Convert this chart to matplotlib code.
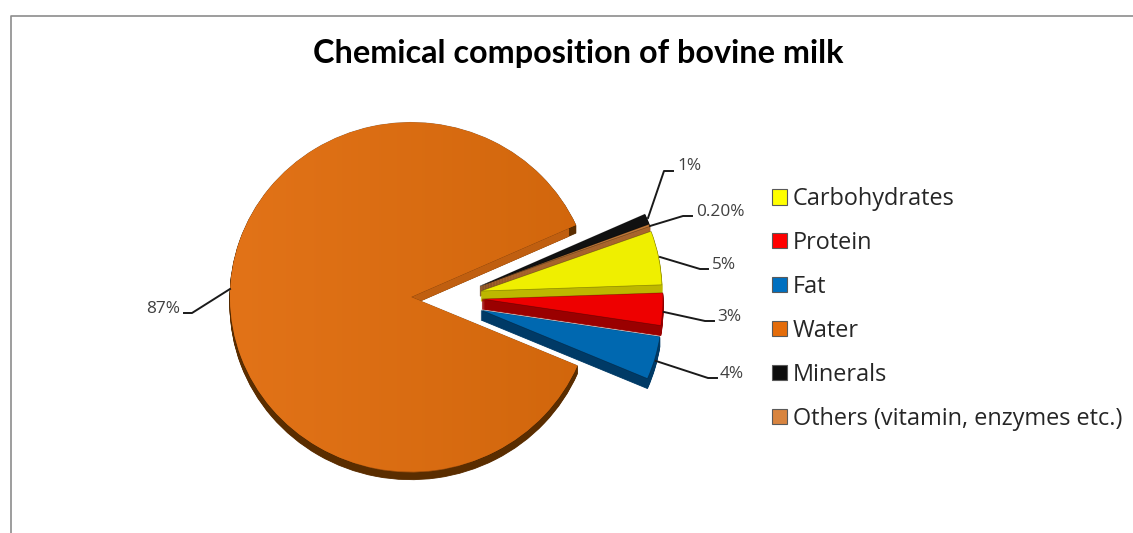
# -*- coding: utf-8 -*-

import numpy as np
import matplotlib
matplotlib.use("Agg")
import matplotlib.pyplot as plt
from matplotlib.patches import Patch
from matplotlib.transforms import Affine2D

categories = ["Carbohydrates", "Protein", "Fat", "Water", "Minerals",
              "Others (vitamin, enzymes etc.)"]
values = [5, 3, 4, 87, 1, 0.2]
value_labels = ["5%", "3%", "4%", "87%", "1%", "0.20%"]

top_colors = ["#EFEF00", "#EE0000", "#0068B0", "#DB6C12", "#111111", "#C07838"]
wall_colors = ["#BDB700", "#9A0000", "#003A66", "#5A2D00", "#111111", "#A8652C"]
legend_colors = ["#FFFF00", "#FF0000", "#0070C0", "#E46C0A", "#0D0D0D", "#D8843F"]

# px offset of every slice from the pie centre (pulled out slices)
slice_shift = [(70, 6), (71, -2), (70, -13), (0, 0), (69, 11), (69, 11)]
draw_rank = [3, 4, 5, 0, 1, 2]

# (elbow x, elbow y, end x, end y, text x, text y, start x, start y)
leaders = [
    (700, 269, 708, 269, 712, 265, 660, 257),
    (705, 321, 714, 321, 717, 317, 664, 312),
    (708, 378, 717, 378, 720, 374, 656, 361),
    (192, 313, 184, 313, 180, 309, 230, 289),
    (664, 171, 673, 171, 677, 166, 648, 218),
    (683, 216, 692, 216, 696, 212, 650, 226),
]

WIDTH, HEIGHT = 1133, 533
CX, CY = 411, 297
RADIUS = 181
SQUASH = 0.965
DEPTH = 10
WATER_DEPTH = 8
START = 20

fig = plt.figure(figsize=(WIDTH / 100, HEIGHT / 100), dpi=100)
ax = fig.add_axes([0, 0, 1, 1])
px = Affine2D().scale(1, -1).translate(0, HEIGHT)


def draw_layer(depth, colors, radius, only=None):
    wedges, _ = ax.pie(values, colors=colors, radius=radius, startangle=START,
                       counterclock=False, normalize=True)
    for i, w in enumerate(wedges):
        if only is not None and i != only:
            w.set_visible(False)
        dx, dy = slice_shift[i]
        # the big slice sits on a thinner rim
        drop = depth * WATER_DEPTH / DEPTH if i == 3 else depth
        w.set_center((dx, (dy - drop) / SQUASH))
        w.set_zorder(draw_rank[i] * 100 + (DEPTH - depth) + (50 if only is not None else 0))
        # same colour edge closes the gaps between the stacked layers
        w.set_edgecolor(colors[i])
        w.set_linewidth(0.6)
    return wedges


for k in range(DEPTH, 0, -1):
    draw_layer(k, wall_colors, RADIUS)
# notch wall of the big slice is lighter than its rim
for k in range(DEPTH, 0, -1):
    draw_layer(k, ["#C05F10"] * 6, RADIUS - WATER_DEPTH, only=3)

tops = draw_layer(0, top_colors, RADIUS)
for w in tops:
    w.set_zorder(w.get_zorder() + 60)
    w.set_edgecolor("#00000055")
    w.set_linewidth(0.5)

ax.set_aspect("auto")

# soft shading on the big slice
grad = np.linspace(0, 1, 256).reshape(1, -1)
shade = matplotlib.colors.LinearSegmentedColormap.from_list("shade", ["#E27318", "#D1660C"])
im = ax.imshow(grad, cmap=shade, extent=(-RADIUS, RADIUS, -RADIUS, RADIUS),
               aspect="auto", zorder=tops[3].get_zorder() + 1)
im.set_clip_path(tops[3])
ax.set_xlim(-CX, WIDTH - CX)
ax.set_ylim(-(HEIGHT - CY) / SQUASH, CY / SQUASH)
ax.axis("off")

# chart frame
fig.add_artist(plt.Line2D([10.5, 10.5, WIDTH], [HEIGHT, 15.5, 15.5], transform=px,
                          color="#8C8C8C", lw=1.2))

for label, (ex, ey, fx, fy, tx, ty, sx, sy) in zip(value_labels, leaders):
    fig.add_artist(plt.Line2D([sx, ex, fx], [sy, ey, fy], transform=px,
                              color="#1A1A1A", lw=1.4))
    ha = "right" if label == "87%" else "left"
    fig.text(tx, ty, label, transform=px, ha=ha, va="center", fontsize=12.4,
             family="Open Sans", color="#404040")

fig.text(578.5, 54, "Chemical composition of bovine milk", transform=px, ha="center",
         va="center", fontsize=23.3, fontweight="bold", family="Lato", color="black")

handles = [Patch(facecolor=c, edgecolor="#5A5A5A", lw=0.8) for c in legend_colors]
ax.legend(handles, categories, loc="upper left", bbox_to_anchor=(772, 187),
          bbox_transform=px, frameon=False, borderpad=0, borderaxespad=0,
          prop={"family": "Open Sans", "size": 16.9}, labelcolor="#262626",
          handlelength=0.64, handleheight=0.64, handletextpad=0.25, labelspacing=0.85)

fig.savefig("out.png", dpi=100)
